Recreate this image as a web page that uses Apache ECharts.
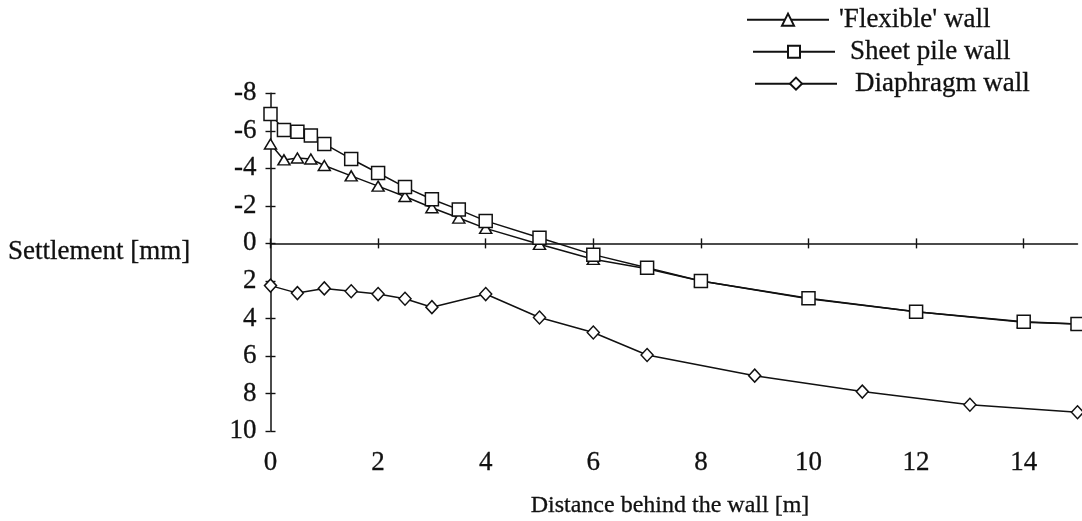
<!DOCTYPE html>
<html><head><meta charset="utf-8">
<script src="https://cdn.jsdelivr.net/npm/echarts@6/dist/echarts.min.js"></script>
<style>html,body{margin:0;padding:0;background:#fff}#c{width:1082px;height:521px}</style>
</head><body><div id="c"></div>
<script>
// ---- data ----
const xTickValues = [0, 2, 4, 6, 8, 10, 12, 14];
const yTickValues = [-8, -6, -4, -2, 0, 2, 4, 6, 8, 10];

const flexibleX = [0, 0.25, 0.5, 0.75, 1, 1.5, 2, 2.5, 3, 3.5, 4, 5, 6, 7, 8, 10, 12, 14, 15];
const flexibleY = [-5.3, -4.45, -4.55, -4.5, -4.15, -3.6, -3.05, -2.5, -1.9, -1.35, -0.8, 0.05, 0.85, 1.35, 2.0, 2.95, 3.65, 4.2, 4.3];

const sheetX = [0, 0.25, 0.5, 0.75, 1, 1.5, 2, 2.5, 3, 3.5, 4, 5, 6, 7, 8, 10, 12, 14, 15];
const sheetY = [-6.9, -6.05, -5.95, -5.75, -5.3, -4.5, -3.75, -3.0, -2.35, -1.8, -1.2, -0.3, 0.6, 1.3, 2.0, 2.93, 3.65, 4.18, 4.3];

const diaphragmX = [0, 0.5, 1, 1.5, 2, 2.5, 3, 4, 5, 6, 7, 9, 11, 13, 15];
const diaphragmY = [2.25, 2.65, 2.4, 2.55, 2.7, 2.95, 3.4, 2.7, 3.95, 4.75, 5.95, 7.05, 7.9, 8.6, 9.0];

const seriesNames = ["'Flexible' wall", "Sheet pile wall", "Diaphragm wall"];
const xTitle = "Distance behind the wall [m]";
const yTitle = "Settlement [mm]";

// ---- chart ----
const FONT = 'Liberation Serif';
const INK = '#111';
const FS = 27;
const zip = (xs, ys) => xs.map((x, i) => [x, ys[i]]);

const chart = echarts.init(document.getElementById('c'), null, {renderer: 'canvas'});

const baseX = {type: 'value', min: 0, max: 15, interval: 2, splitLine: {show: false}};
const baseY = {type: 'value', min: -8, max: 10, interval: 2, inverse: true, splitLine: {show: false}};
const textBase = {fontFamily: FONT, fontSize: FS, color: INK, textBorderColor: INK, textBorderWidth: 0.3};

function lineSeries(name, data, symbol, size, z) {
  return {
    name, type: 'line', data, symbol, symbolSize: size, z,
    showAllSymbol: true,
    lineStyle: {color: INK, width: 1.5},
    itemStyle: {color: '#fff', borderColor: INK, borderWidth: 1.5},
    emphasis: {disabled: true},
    animation: false
  };
}

function legendAt(name, left, top, gap) {
  return {
    data: [name], left, top, orient: 'vertical', padding: 0,
    itemWidth: 82, itemHeight: 15, itemGap: 0,
    textStyle: Object.assign({}, textBase, {padding: [0, 0, 0, gap]}),
    selectedMode: false
  };
}

chart.setOption({
  backgroundColor: '#fff',
  animation: false,
  grid: {left: 270.5, right: 4.5, top: 93.3, bottom: 90, outerBoundsMode: 'none', containLabel: false},
  legend: [
    legendAt(seriesNames[0], 746, 6, 5),
    legendAt(seriesNames[1], 752, 38, 10),
    legendAt(seriesNames[2], 754, 70, 13)
  ],
  xAxis: [
    Object.assign({}, baseX, {
      position: 'bottom',
      axisLine: {show: false, onZero: false},
      axisTick: {show: false},
      axisLabel: Object.assign({customValues: xTickValues, margin: 18}, textBase)
    }),
    Object.assign({}, baseX, {
      axisLine: {show: true, onZero: true, lineStyle: {color: INK, width: 1.5}},
      axisTick: {show: true, customValues: xTickValues, length: 5, lineStyle: {color: INK, width: 1.4}},
      axisLabel: {show: false}
    }),
    Object.assign({}, baseX, {
      axisLine: {show: false, onZero: true},
      axisTick: {show: true, inside: true, customValues: xTickValues, length: 5, lineStyle: {color: INK, width: 1.4}},
      axisLabel: {show: false}
    })
  ],
  yAxis: [
    Object.assign({}, baseY, {
      position: 'left',
      axisLine: {show: true, onZero: false, lineStyle: {color: INK, width: 1.5}},
      axisTick: {show: true, customValues: yTickValues, length: 5, lineStyle: {color: INK, width: 1.4}},
      axisLabel: Object.assign({customValues: yTickValues, margin: 14}, textBase)
    }),
    Object.assign({}, baseY, {
      position: 'left',
      axisLine: {show: false, onZero: false},
      axisTick: {show: true, inside: true, customValues: yTickValues, length: 5, lineStyle: {color: INK, width: 1.4}},
      axisLabel: {show: false}
    })
  ],
  graphic: [
    {type: 'text', x: 8, y: 252,
      style: {text: yTitle, font: FS + 'px "' + FONT + '"', fill: INK, stroke: INK, lineWidth: 0.3,
        align: 'left', verticalAlign: 'middle'}},
    {type: 'text', x: 670, y: 506,
      style: {text: xTitle, font: '24px "' + FONT + '"', fill: INK, stroke: INK, lineWidth: 0.3,
        align: 'center', verticalAlign: 'middle'}}
  ],
  series: [
    lineSeries(seriesNames[0], zip(flexibleX, flexibleY), 'triangle', [12, 10], 2),
    lineSeries(seriesNames[1], zip(sheetX, sheetY), 'rect', 13, 3),
    lineSeries(seriesNames[2], zip(diaphragmX, diaphragmY), 'diamond', [12, 13], 2)
  ]
});
</script>
</body></html>
